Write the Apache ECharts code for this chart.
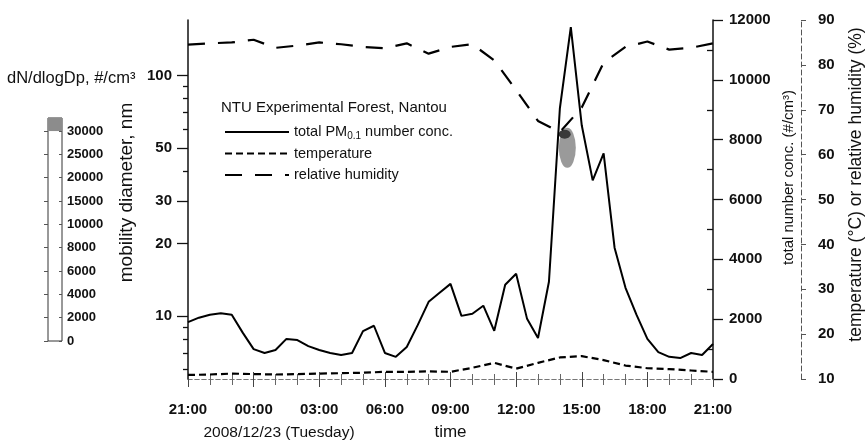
<!DOCTYPE html>
<html><head><meta charset="utf-8">
<script src="https://cdn.jsdelivr.net/npm/echarts@6/dist/echarts.min.js"></script>
<style>html,body{margin:0;padding:0;background:#fff}#c{width:867px;height:440px}</style>
</head><body><div id="c"></div>
<script>
// ---- data ----
const timeLabels = ['21:00','00:00','03:00','06:00','09:00','12:00','15:00','18:00','21:00'];
const concStepHours = 0.5;   // total PM0.1 number conc. sampled every 30 min from 21:00
const totalConc = [1900,2050,2150,2200,2150,1550,1000,870,970,1340,1300,1100,970,870,800,870,1600,1780,870,740,1070,1800,2580,2880,3180,2110,2180,2450,1610,3150,3520,2010,1370,3250,9050,11760,8480,6640,7540,4390,3050,2150,1340,900,740,700,870,800,1170];
const metStepHours = 1;      // temperature / RH sampled hourly from 21:00
const temperature = [10.9,11.0,11.2,11.1,11.0,11.1,11.2,11.3,11.4,11.6,11.6,11.7,11.6,12.5,13.6,12.3,13.6,14.8,15.1,14.2,13.0,12.4,12.2,11.9,11.6];
const humidity = [84.5,84.8,85.0,85.6,83.8,84.3,85.0,84.6,84.0,83.7,84.8,82.5,84.0,84.6,81.0,74.4,67.5,65.0,70.5,80.5,84.0,85.2,83.4,83.8,84.8];
const diamLabelTicks = [10,20,30,50,100];
const diamMinorTicks = [6,7,8,9,40,60,70,80,90];
const concMinorTicks = [1000,3000,5000,7000,9000,11000];
const colorbarLabels = ['0','2000','4000','6000','8000','10000','15000','20000','25000','30000'];
const blobHours = [17.34, 17.22];
const blobDiam = [50, 57];

const font = "'Liberation Sans', Arial, Helvetica, sans-serif";
const L = v => Math.log10(v);
const chart = echarts.init(document.getElementById('c'));
const dashedAxis = {lineStyle:{color:'#777', type:[4,3], width:1}};
const option = {
  animation:false,
  textStyle:{fontFamily:font, color:'#111'},
  title:{text:'NTU Experimental Forest, Nantou', left:216, top:95,
    textStyle:{fontSize:15, fontWeight:'normal', color:'#111', fontFamily:font}},
  legend:{left:219, top:118, orient:'vertical', itemWidth:64, itemHeight:12, itemGap:3.5,
    itemStyle:{color:'transparent', borderColor:'transparent', borderWidth:0},
    data:['total PM0.1 number conc.','temperature','relative humidity'],
    formatter: n => n==='total PM0.1 number conc.' ? 'total PM{sub|0.1} number conc.' : n,
    textStyle:{fontSize:14.5, color:'#111', fontFamily:font, lineHeight:18,
      rich:{sub:{fontSize:10, verticalAlign:'bottom', lineHeight:12, fontFamily:font, color:'#111'}}}},
  grid:[
    {left:188, right:154, top:20, bottom:61, outerBoundsMode:'none', containLabel:false},
    {left:48, width:14, top:118, height:223, show:true, borderColor:'#333', borderWidth:1, backgroundColor:'#fff', outerBoundsMode:'none', containLabel:false}
  ],
  xAxis:[
    {gridIndex:0, type:'value', min:0, max:24, interval:3, position:'bottom',
      axisLine:dashedAxis, axisTick:{length:8, lineStyle:{color:'#444'}},
      minorTick:{show:true, splitNumber:3, length:6, lineStyle:{color:'#666'}},
      axisLabel:{formatter:v=>timeLabels[Math.round(v/3)], fontSize:15, fontWeight:'bold', color:'#111', margin:23},
      splitLine:{show:false},
      name:'time', nameLocation:'middle', nameGap:45, nameTextStyle:{fontSize:17, color:'#111'}},
    {gridIndex:0, type:'value', min:0, max:24, interval:3, position:'top',
      axisLine:dashedAxis, axisTick:{length:7, lineStyle:{color:'#444'}},
      minorTick:{show:true, splitNumber:3, length:5, lineStyle:{color:'#666'}},
      axisLabel:{show:false}, splitLine:{show:false}},
    {gridIndex:1, type:'category', data:['c'], show:false}
  ],
  yAxis:[
    {gridIndex:0, type:'value', min:L(5.47), max:L(170), position:'left',
      axisLine:{show:true, lineStyle:{color:'#111', width:1.5}},
      axisTick:{show:true, customValues:diamLabelTicks.map(L), length:11, lineStyle:{color:'#111', width:1.3}},
      axisLabel:{customValues:diamLabelTicks.map(L), formatter:v=>String(Math.round(Math.pow(10,v))), fontSize:15, fontWeight:'bold', color:'#111', margin:16},
      splitLine:{show:false},
      name:'mobility diameter, nm', nameLocation:'middle', nameRotate:90, nameGap:41,
      nameTextStyle:{fontSize:19, color:'#111', padding:[0,0,0,14]}},
    {gridIndex:0, type:'value', min:L(5.47), max:L(170), position:'left',
      axisLine:{show:false},
      axisTick:{show:true, customValues:diamMinorTicks.map(L), length:5, lineStyle:{color:'#111', width:1.3}},
      axisLabel:{show:false}, splitLine:{show:false}},
    {gridIndex:0, type:'value', min:0, max:12000, interval:2000, position:'right',
      axisLine:{show:true, lineStyle:{color:'#111', width:1.5}},
      axisTick:{length:10, lineStyle:{color:'#111', width:1.3}},
      axisLabel:{formatter:v=>String(v), fontSize:15, fontWeight:'bold', color:'#111', margin:16},
      splitLine:{show:false},
      name:'total number conc. (#/cm³)', nameLocation:'middle', nameRotate:90, nameGap:67,
      nameTextStyle:{fontSize:15, color:'#111', padding:[0,0,0,44]}},
    {gridIndex:0, type:'value', min:0, max:12000, position:'right',
      axisLine:{show:false},
      axisTick:{show:true, inside:true, customValues:concMinorTicks, length:6, lineStyle:{color:'#111', width:1.3}},
      axisLabel:{show:false}, splitLine:{show:false}},
    {gridIndex:0, type:'value', min:10, max:90, interval:10, position:'right', offset:88,
      axisLine:{show:true, lineStyle:{color:'#555', type:[5,3], width:1}},
      axisTick:{length:5, lineStyle:{color:'#555'}},
      axisLabel:{fontSize:15, fontWeight:'bold', color:'#111', margin:17},
      splitLine:{show:false},
      name:'temperature (°C) or relative humidity (%)', nameLocation:'middle', nameRotate:90, nameGap:46,
      nameTextStyle:{fontSize:17.5, color:'#111', padding:[0,0,0,30]}},
    {gridIndex:1, type:'value', min:0, max:9.56, position:'right',
      axisLine:{show:false},
      axisTick:{show:true, inside:true, customValues:colorbarLabels.map((s,i)=>i), length:3, lineStyle:{color:'#555'}},
      axisLabel:{customValues:colorbarLabels.map((s,i)=>i), formatter:v=>colorbarLabels[Math.round(v)], fontSize:13, fontWeight:'bold', color:'#111', margin:5},
      splitLine:{show:false}},
    {gridIndex:1, type:'value', min:0, max:9.56, position:'left',
      axisLine:{show:false},
      axisTick:{show:true, customValues:colorbarLabels.map((s,i)=>i), length:4, lineStyle:{color:'#555'}},
      axisLabel:{show:false}, splitLine:{show:false}}
  ],
  graphic:[
    {type:'text', left:7, top:70, style:{text:'dN/dlogDp, #/cm³', font:'16.5px '+font, fill:'#111'}},
    {type:'text', x:279, y:433, style:{text:'2008/12/23 (Tuesday)', font:'15.5px '+font, fill:'#111', align:'center', verticalAlign:'middle'}}
  ],
  series:[
    {name:'total PM0.1 number conc.', type:'line', xAxisIndex:0, yAxisIndex:2, symbol:'none', z:5,
      data: totalConc.map((v,i)=>[i*concStepHours, v]),
      lineStyle:{color:'#000', width:2}, itemStyle:{color:'#000'}},
    {name:'temperature', type:'line', xAxisIndex:0, yAxisIndex:4, symbol:'none', z:4,
      data: temperature.map((v,i)=>[i*metStepHours, v]),
      lineStyle:{color:'#000', width:2.2, type:[7,4]}, itemStyle:{color:'#000'}},
    {name:'relative humidity', type:'line', xAxisIndex:0, yAxisIndex:4, symbol:'none', z:4,
      data: humidity.map((v,i)=>[i*metStepHours, v]),
      lineStyle:{color:'#000', width:2.2, type:[17,13]}, itemStyle:{color:'#000'}},
    {name:'size distribution', type:'scatter', xAxisIndex:0, yAxisIndex:0, silent:true, z:3,
      data: blobHours.map((h,i)=>({value:[h, L(blobDiam[i])],
        symbolSize: i===0 ? [17,40] : [12,9],
        itemStyle:{color: i===0 ? '#9a9a9a' : '#3a3a3a', opacity:1}}))},
    {type:'bar', xAxisIndex:2, yAxisIndex:5, stack:'cb', barWidth:'100%', silent:true,
      data:[9], itemStyle:{color:'rgba(0,0,0,0)'}},
    {type:'bar', xAxisIndex:2, yAxisIndex:5, stack:'cb', barWidth:'100%', silent:true,
      data:[0.56], itemStyle:{color:'#8c8c8c'}}
  ]
};
chart.setOption(option);
</script></body></html>
